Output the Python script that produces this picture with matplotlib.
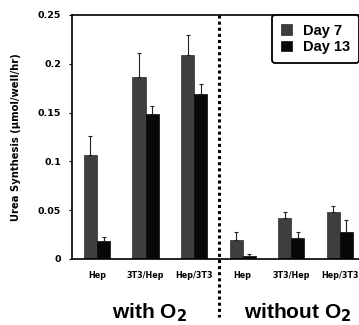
import matplotlib
matplotlib.use("Agg")
import matplotlib.pyplot as plt
import numpy as np

plt.rcParams['font.family'] = ['Liberation Sans', 'DejaVu Sans']
plt.rcParams['font.weight'] = 'bold'

categories = ["Hep", "3T3/Hep", "Hep/3T3", "Hep", "3T3/Hep", "Hep/3T3"]
day7 = [0.107, 0.186, 0.209, 0.019, 0.042, 0.048]
day7_err = [0.019, 0.025, 0.020, 0.009, 0.006, 0.006]
day13 = [0.018, 0.149, 0.169, 0.003, 0.022, 0.028]
day13_err = [0.005, 0.008, 0.010, 0.002, 0.006, 0.012]
series_labels = ["Day 7", "Day 13"]
group_labels = ["with O$_2$", "without O$_2$"]
yticks = [0, 0.05, 0.1, 0.15, 0.2, 0.25]
ytick_labels = ["0", "0.05", "0.1", "0.15", "0.2", "0.25"]

fig = plt.figure(figsize=(3.59, 3.25), dpi=100)
ax = fig.add_axes([72/359, 66/325, 297/359, 244/325])

x = np.arange(len(categories))
w = 0.27
ekw = dict(elinewidth=0.8, capsize=1.5, capthick=0.8, ecolor='#222222')
ax.bar(x - w/2, day7, w, color='#3e3e3e', edgecolor='#2a2a2a', linewidth=0.5,
       yerr=[np.zeros(len(day7)), day7_err], error_kw=ekw, label=series_labels[0])
ax.bar(x + w/2, day13, w, color='#080808', edgecolor='#080808', linewidth=0.5,
       yerr=[np.zeros(len(day13)), day13_err], error_kw=ekw, label=series_labels[1])

ax.set_xlim(-0.515, 5.6)
ax.set_ylim(0, 0.25)
ax.set_yticks(yticks)
ax.set_yticklabels(ytick_labels, fontsize=6.8, fontweight='bold', family='DejaVu Sans')
ax.tick_params(axis='y', direction='out', length=2, width=0.8, pad=6)
ax.set_xticks(x)
ax.set_xticklabels(categories, fontsize=5.8, fontweight='bold', family='DejaVu Sans')
ax.tick_params(axis='x', length=0, pad=9)
for s in ['left', 'bottom', 'top']:
    ax.spines[s].set_linewidth(1.2)
ax.spines['right'].set_visible(False)

ax.set_ylabel("Urea Synthesis (\u03bcmol/well/hr)", fontsize=7.2, fontweight='bold',
              family='DejaVu Sans', labelpad=12)

# dotted divider
ax.plot([2.51, 2.51], [0.25, -0.059], color='black', linestyle=(0, (1, 1)),
        linewidth=2.2, clip_on=False)

# group labels
ax.text(1.09, -0.055, group_labels[0], fontsize=15, fontweight='bold', ha='center', va='center')
ax.text(4.14, -0.055, group_labels[1], fontsize=15, fontweight='bold', ha='center', va='center')

leg = ax.legend(loc='upper left', bbox_to_anchor=(0.673, 1.0), borderaxespad=0,
                fancybox=True, framealpha=1, edgecolor='black',
                prop={'size': 10.5, 'weight': 'bold'}, handlelength=0.75, handleheight=0.75,
                handletextpad=0.8, labelspacing=0.15, borderpad=0.6)
leg.get_frame().set_linewidth(1.3)

fig.savefig("out.png", dpi=100)
